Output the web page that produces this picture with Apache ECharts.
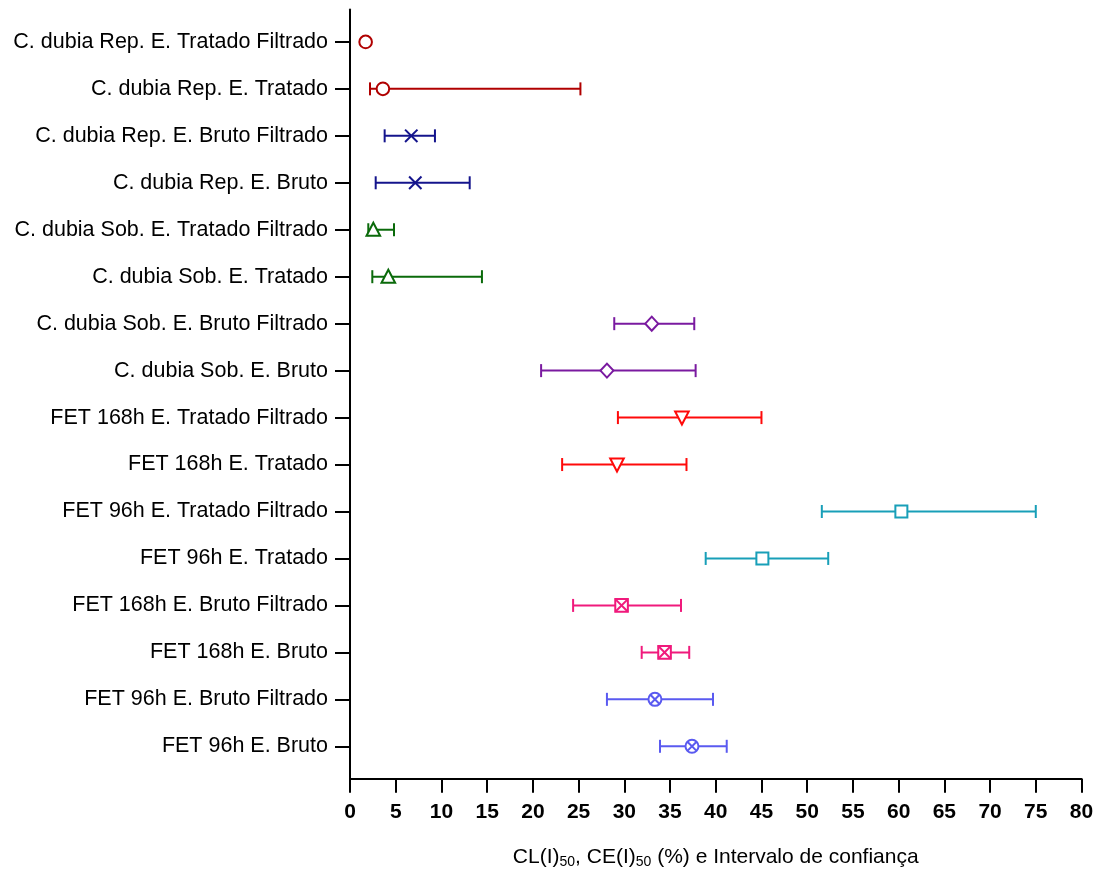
<!DOCTYPE html>
<html>
<head>
<meta charset="utf-8">
<script src="https://cdn.jsdelivr.net/npm/echarts@6/dist/echarts.min.js"></script>
<style>
html,body{margin:0;padding:0;background:#fff;}
#chart{width:1102px;height:875px;}
</style>
</head>
<body>
<div id="chart"></div>
<script>
const categories = [
  'C. dubia Rep. E. Tratado Filtrado',
  'C. dubia Rep. E. Tratado',
  'C. dubia Rep. E. Bruto Filtrado',
  'C. dubia Rep. E. Bruto',
  'C. dubia Sob. E. Tratado Filtrado',
  'C. dubia Sob. E. Tratado',
  'C. dubia Sob. E. Bruto Filtrado',
  'C. dubia Sob. E. Bruto',
  'FET 168h E. Tratado Filtrado',
  'FET 168h E. Tratado',
  'FET 96h E. Tratado Filtrado',
  'FET 96h E. Tratado',
  'FET 168h E. Bruto Filtrado',
  'FET 168h E. Bruto',
  'FET 96h E. Bruto Filtrado',
  'FET 96h E. Bruto'
];
const values = [1.71, 3.6, 6.7, 7.14, 2.55, 4.19, 33.0, 28.1, 36.3, 29.2, 60.3, 45.1, 29.7, 34.4, 33.35, 37.4];
const lower  = [null, 2.19, 3.79, 2.81, 2.0, 2.44, 28.9, 20.9, 29.3, 23.2, 51.6, 38.9, 24.4, 31.9, 28.1, 33.9];
const upper  = [null, 25.2, 9.29, 13.09, 4.81, 14.43, 37.65, 37.8, 45.0, 36.8, 75.0, 52.3, 36.2, 37.1, 39.7, 41.2];
const xTicks = [0, 5, 10, 15, 20, 25, 30, 35, 40, 45, 50, 55, 60, 65, 70, 75, 80];

// styles (per row)
const markerKinds = ['circle','circle','cross','cross','triUp','triUp','diamond','diamond','triDown','triDown','square','square','boxX','boxX','circleX','circleX'];
const rowColors = ['#B00000','#B00000','#14148C','#14148C','#0A6A0A','#0A6A0A','#7A1AA0','#7A1AA0','#FF0A0A','#FF0A0A','#189FB8','#189FB8','#F01A7C','#F01A7C','#5A5AF0','#5A5AF0'];

const data = values.map((v, i) => [i, v, lower[i] == null ? NaN : lower[i], upper[i] == null ? NaN : upper[i]]);

function renderItem(params, api) {
  const i = api.value(0);
  const v = api.value(1);
  const lo = api.value(2);
  const hi = api.value(3);
  const color = rowColors[i];
  const kind = markerKinds[i];
  const lw = 2;
  const st = {stroke: color, lineWidth: lw, fill: null};
  const mk = {stroke: color, lineWidth: lw, fill: '#fff'};
  const children = [];
  if (!isNaN(lo) && !isNaN(hi)) {
    const a = api.coord([lo, i]);
    const b = api.coord([hi, i]);
    const cap = 6.5;
    children.push({type: 'line', shape: {x1: a[0], y1: a[1], x2: b[0], y2: b[1]}, style: st});
    children.push({type: 'line', shape: {x1: a[0], y1: a[1] - cap, x2: a[0], y2: a[1] + cap}, style: st});
    children.push({type: 'line', shape: {x1: b[0], y1: b[1] - cap, x2: b[0], y2: b[1] + cap}, style: st});
  }
  const p = api.coord([v, i]);
  const x = p[0], y = p[1];
  if (kind === 'circle') {
    children.push({type: 'circle', shape: {cx: x, cy: y, r: 6.3}, style: mk});
  } else if (kind === 'cross') {
    const s = 6.2;
    children.push({type: 'line', shape: {x1: x - s, y1: y - s, x2: x + s, y2: y + s}, style: st});
    children.push({type: 'line', shape: {x1: x - s, y1: y + s, x2: x + s, y2: y - s}, style: st});
  } else if (kind === 'triUp') {
    children.push({type: 'polygon', shape: {points: [[x, y - 7], [x + 6.8, y + 6], [x - 6.8, y + 6]]}, style: mk});
  } else if (kind === 'triDown') {
    children.push({type: 'polygon', shape: {points: [[x - 6.8, y - 6], [x + 6.8, y - 6], [x, y + 7]]}, style: mk});
  } else if (kind === 'diamond') {
    children.push({type: 'polygon', shape: {points: [[x, y - 7], [x + 6.5, y], [x, y + 7], [x - 6.5, y]]}, style: mk});
  } else if (kind === 'square') {
    children.push({type: 'rect', shape: {x: x - 6, y: y - 6, width: 12, height: 12}, style: mk});
  } else if (kind === 'boxX') {
    const s = 6.3;
    children.push({type: 'rect', shape: {x: x - s, y: y - s, width: 2 * s, height: 2 * s}, style: mk});
    children.push({type: 'line', shape: {x1: x - s, y1: y - s, x2: x + s, y2: y + s}, style: st});
    children.push({type: 'line', shape: {x1: x - s, y1: y + s, x2: x + s, y2: y - s}, style: st});
  } else if (kind === 'circleX') {
    const r = 6.5;
    const d = r * 0.7071;
    children.push({type: 'circle', shape: {cx: x, cy: y, r: r}, style: mk});
    children.push({type: 'line', shape: {x1: x - d, y1: y - d, x2: x + d, y2: y + d}, style: st});
    children.push({type: 'line', shape: {x1: x - d, y1: y + d, x2: x + d, y2: y - d}, style: st});
  }
  return {type: 'group', children: children};
}

const chart = echarts.init(document.getElementById('chart'), null, {renderer: 'canvas'});
const font = "'Liberation Sans', Arial, sans-serif";
chart.setOption({
  animation: false,
  backgroundColor: '#fff',
  textStyle: {fontFamily: font},
  grid: {left: 350, right: 20.5, top: 9.5, bottom: 96.3, containLabel: false},
  xAxis: {
    type: 'value',
    min: xTicks[0],
    max: xTicks[xTicks.length - 1],
    interval: 5,
    axisLine: {show: true, onZero: false, lineStyle: {color: '#000', width: 2}},
    axisTick: {show: true, length: 14, lineStyle: {color: '#000', width: 2}},
    axisLabel: {color: '#000', fontSize: 21, fontWeight: 'bold', fontFamily: font, margin: 23},
    splitLine: {show: false},
    name: 'CL(I){sub|50}, CE(I){sub|50} (%) e Intervalo de confiança',
    nameLocation: 'middle',
    nameGap: 67,
    nameTextStyle: {
      color: '#000', fontSize: 21, fontFamily: font,
      rich: {sub: {fontSize: 14, fontFamily: font, color: '#000', verticalAlign: 'bottom', padding: [9, 0, 0, 0]}}
    }
  },
  yAxis: {
    type: 'value',
    inverse: true,
    min: -0.69,
    max: 15.69,
    axisLine: {show: true, onZero: false, lineStyle: {color: '#000', width: 2}},
    axisTick: {show: true, length: 15, lineStyle: {color: '#000', width: 2}, customValues: categories.map((c, i) => i)},
    axisLabel: {color: '#000', fontSize: 21.5, fontFamily: font, margin: 22, customValues: categories.map((c, i) => i),
      formatter: v => categories[Math.round(v)] || ''},
    splitLine: {show: false}
  },
  series: [{
    type: 'custom',
    renderItem: renderItem,
    encode: {x: [1, 2, 3], y: 0},
    data: data,
    clip: false
  }]
});
</script>
</body>
</html>
